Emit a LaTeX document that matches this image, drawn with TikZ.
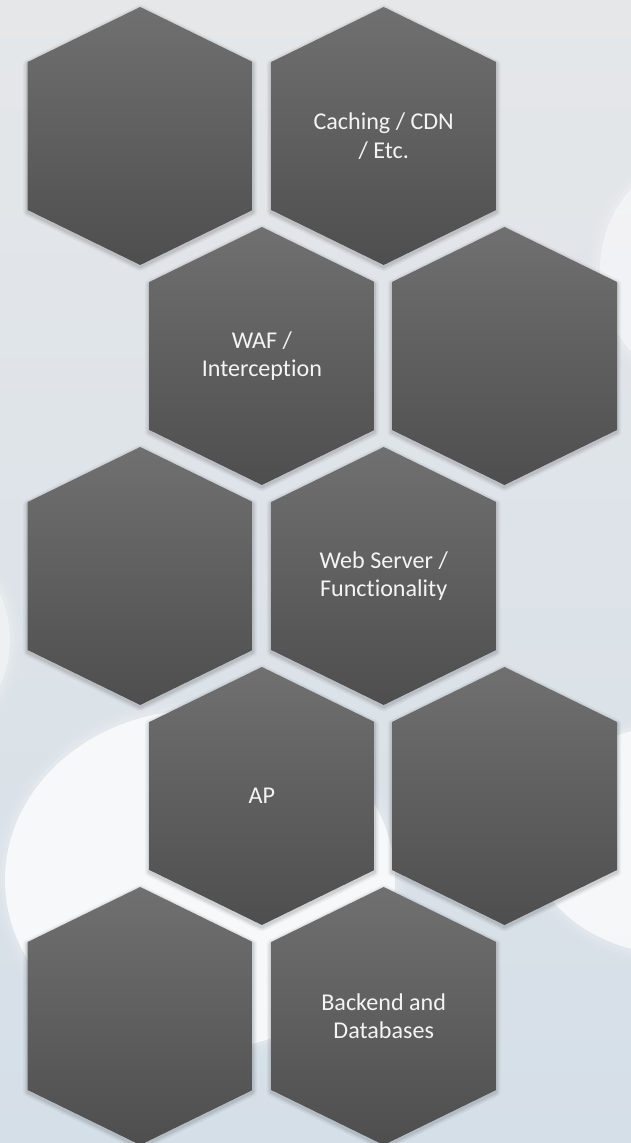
\documentclass[tikz,border=0pt]{standalone}
\usepackage{fontspec}
\setmainfont{Carlito}[Ligatures=CommonOff]

\definecolor{bgtop}{HTML}{E5E7E9}
\definecolor{bgmid}{HTML}{D4D7DB}
\definecolor{bgbot}{HTML}{D5DFE8}
\definecolor{hextop}{HTML}{707070}
\definecolor{hexbot}{HTML}{4E4E4E}
\definecolor{labeltext}{HTML}{F4F4F4}

\tikzset{
  hexlabel/.style={text=labeltext, align=center, inner sep=0pt,
    font=\fontsize{24.2}{28.5}\selectfont},
  glow/.style={fill=white, opacity=#1},
}

% one hexagonal cell: name, centre x, centre y, label
\newcommand\hexcell[4]{%
  \begin{scope}[shift={(#2,#3)}]
    \foreach \w/\o in {9/0.035,6/0.05,3/0.08}
      \draw[black, opacity=\o, line width=\w, line join=round]
        (0,-127) -- (112.5,-72) -- (112.5,76) -- (0,131) -- (-112.5,76) -- (-112.5,-72) -- cycle;
    \shade[top color=hextop, bottom color=hexbot]
      (0,-129) -- (112.5,-74) -- (112.5,74) -- (0,129) -- (-112.5,74) -- (-112.5,-74) -- cycle;
  \end{scope}
  \node[hexlabel] (#1) at (#2,#3) {#4};
}

% soft light disc: centre, x radius, y radius, strength
\newcommand\bokeh[5]{%
  \foreach \g/\o in {12/0.06,8/0.08,4/0.12}
    \fill[glow=\o] (#1,#2) ellipse [x radius=#3+\g, y radius=#4+\g];
  \fill[glow=#5] (#1,#2) ellipse [x radius=#3, y radius=#4];
}

\begin{document}
\begin{tikzpicture}[x=1bp, y=-1bp]
  \useasboundingbox (0,0) rectangle (631,1143);

  % backdrop
  \shade[top color=bgtop, middle color=bgmid, bottom color=bgbot] (0,0) rectangle (631,1143);
  \begin{scope}
    \clip (0,0) rectangle (631,1143);
    \bokeh{722}{270}{122}{122}{0.45}
    \bokeh{-100}{640}{110}{110}{0.40}
    \bokeh{200}{880}{195}{170}{0.72}
    \bokeh{680}{840}{150}{115}{0.68}
  \end{scope}

  % honeycomb
  \hexcell{h1}{140.2}{136}{}
  \hexcell{h2}{383.7}{136}{Caching / CDN\\/ Etc.}
  \hexcell{h3}{261.9}{356}{WAF /\\Interception}
  \hexcell{h4}{504.5}{356}{}
  \hexcell{h5}{140.2}{576}{}
  \hexcell{h6}{383.7}{576}{Web Server /\\Functionality}
  \hexcell{h7}{261.9}{796}{AP}
  \hexcell{h8}{504.5}{796}{}
  \hexcell{h9}{140.2}{1016}{}
  \hexcell{h10}{383.7}{1016}{Backend and\\Databases}
\end{tikzpicture}
\end{document}
